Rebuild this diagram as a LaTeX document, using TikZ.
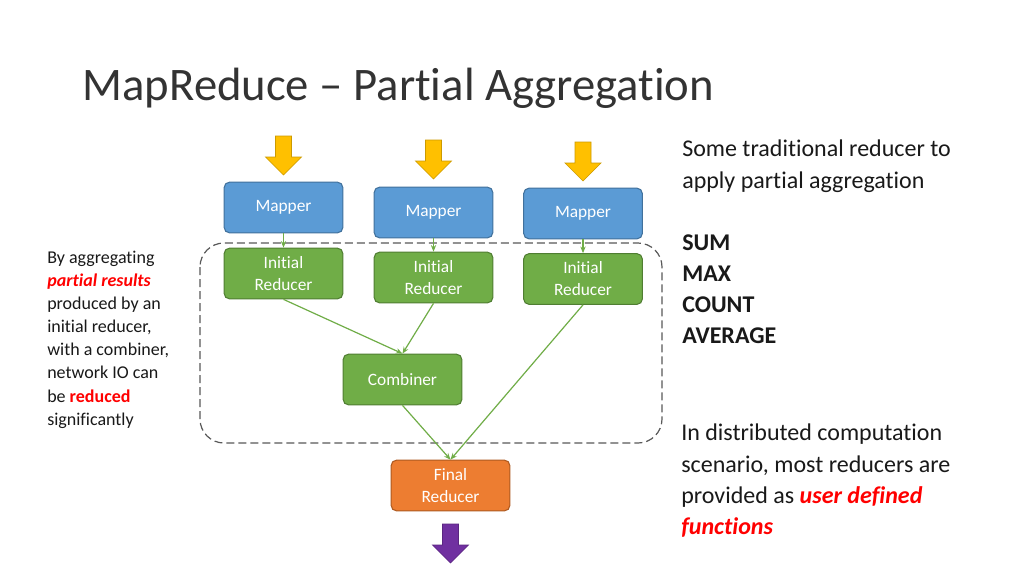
\documentclass[tikz,border=0pt]{standalone}
\usepackage{fontspec}
\setmainfont{Carlito}[Ligatures=NoCommon]
\usetikzlibrary{arrows.meta}
\definecolor{mblue}{HTML}{5B9BD5}\definecolor{mblueD}{HTML}{41719C}
\definecolor{mgreen}{HTML}{70AD47}\definecolor{mgreenD}{HTML}{507E32}
\definecolor{morange}{HTML}{ED7D31}\definecolor{morangeD}{HTML}{AE5A21}
\definecolor{myellow}{HTML}{FFC000}\definecolor{mpurple}{HTML}{7030A0}
\definecolor{mred}{HTML}{FF0000}
\begin{document}
\begin{tikzpicture}[x=0.75pt,y=-0.75pt,
 box/.style={rounded corners=4pt,minimum width=89pt,minimum height=38pt,text=white,font=\fontsize{13}{16.5}\selectfont,align=center,line width=0.8pt},
 mapper/.style={box,fill=mblue,draw=mblueD},
 red/.style={box,fill=mgreen,draw=mgreenD},
 fin/.style={box,fill=morange,draw=morangeD},
 conn/.style={draw=mgreen,line width=0.9pt,-{Stealth[length=5pt,width=4pt]}},
 barrow/.style={fill=#1,draw=#1!80!black,line width=0.5pt}]
\useasboundingbox (0,0) rectangle (1024,576);
\fill[white] (0,0) rectangle (1024,576);
\node[anchor=base west,font=\fontsize{35}{40}\selectfont,text=black!80] (title) at (78,100) {MapReduce – Partial Aggregation};
\draw[line width=0.9pt,draw=black!65,dash pattern=on 6pt off 3pt,rounded corners=18pt] (200,243) rectangle (662,443);
\node[mapper] (m1) at (283.5,207.5) {Mapper};
\node[mapper] (m2) at (433.5,212.5) {Mapper};
\node[mapper] (m3) at (583,213.5) {Mapper};
\node[red] (r1) at (283.5,273.5) {Initial\\Reducer};
\node[red] (r2) at (433.5,277.5) {Initial\\Reducer};
\node[red] (r3) at (583,279) {Initial\\Reducer};
\node[red] (c) at (402.5,379.5) {Combiner};
\node[fin] (f) at (450.5,485.5) {Final\\Reducer};
\foreach \x/\y/\c in {283.5/136/myellow,433.5/140/myellow,583/142/myellow,450.5/524/mpurple}
  \draw[barrow=\c] (\x-8,\y) -- (\x+8,\y) -- (\x+8,\y+21) -- (\x+18,\y+21) -- (\x,\y+39) -- (\x-18,\y+21) -- (\x-8,\y+21) -- cycle;
\draw[conn] (m1) -- (r1);
\draw[conn] (m2) -- (r2);
\draw[conn] (m3) -- (r3);
\draw[conn] (r1.south) -- (c.north);
\draw[conn] (r2.south) -- (c.north);
\draw[conn] (c.south) -- (f.north);
\draw[conn] (r3.south) -- (f.north);
\node[anchor=north west,align=left,font=\fontsize{13.5}{17.3}\selectfont,text=black!90,inner sep=0pt] (lt) at (47,251) {By aggregating\\{\color{mred}\bfseries\itshape partial results}\\produced by an\\initial reducer,\\with a combiner,\\network IO can\\be {\color{mred}\bfseries reduced}\\significantly};
\node[anchor=north west,align=left,font=\fontsize{18}{23.3}\selectfont,text=black!90,inner sep=0pt] (rt1) at (682,140) {Some traditional reducer to\\apply partial aggregation\\[23.3pt]\bfseries SUM\\\bfseries MAX\\\bfseries COUNT\\\bfseries AVERAGE};
\node[anchor=north west,align=left,font=\fontsize{18}{23.3}\selectfont,text=black!90,inner sep=0pt] (rt2) at (681,424) {In distributed computation\\scenario, most reducers are\\provided as {\color{mred}\bfseries\itshape user defined}\\{\color{mred}\bfseries\itshape functions}};
\end{tikzpicture}
\end{document}
